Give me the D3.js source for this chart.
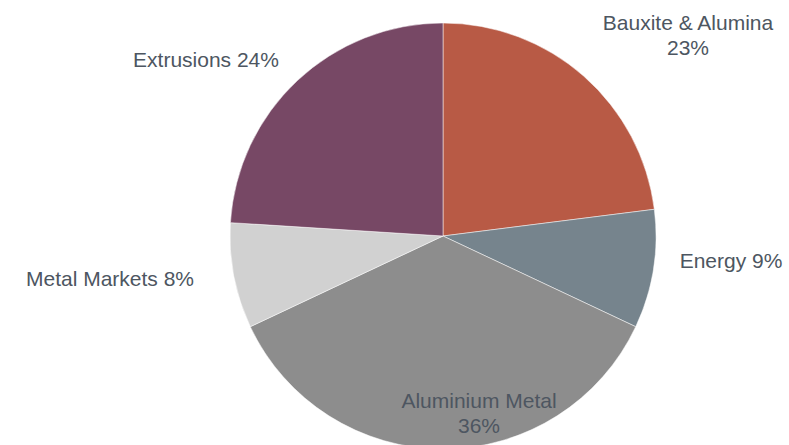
<!DOCTYPE html>
<html>
<head>
<meta charset="utf-8">
<script src="https://cdn.jsdelivr.net/npm/d3@7"></script>
<style>
  body { margin: 0; background: #fff; }
  svg { display: block; }
  text { font-family: "Liberation Sans", Arial, sans-serif; fill: #4d5661; }
</style>
</head>
<body>
<svg width="789" height="445"></svg>
<script>
var segments = ["Bauxite & Alumina", "Energy", "Aluminium Metal", "Metal Markets", "Extrusions"];
var shares = [23, 9, 36, 8, 24];
var colours = ["#b85a45", "#76848d", "#8d8d8d", "#d1d1d1", "#774865"];

// label lines and where they sit (layout only)
var labelLines = [
  ["Bauxite & Alumina", "23%"],
  ["Energy 9%"],
  ["Aluminium Metal", "36%"],
  ["Metal Markets 8%"],
  ["Extrusions 24%"]
];
var labelAt = [[688, 30], [731, 268], [479, 408], [110, 286], [206, 67]];

var svg = d3.select("svg"),
    cx = 443, cy = 236, radius = 213;

var data = segments.map(function(s, i) { return { name: s, value: shares[i], i: i }; });

var pie = d3.pie()
    .sort(null)
    .value(function(d) { return d.value; });

var arc = d3.arc().innerRadius(0).outerRadius(radius);

var g = svg.append("g").attr("transform", "translate(" + cx + "," + cy + ")");

g.selectAll("path")
  .data(pie(data))
  .enter().append("path")
    .attr("d", arc)
    .attr("fill", function(d) { return colours[d.data.i]; })
    .attr("stroke", "#ffffff")
    .attr("stroke-width", 0.5);

var labels = svg.append("g").selectAll("text")
  .data(data)
  .enter().append("text")
    .attr("text-anchor", "middle")
    .attr("font-size", 21)
    .attr("x", function(d) { return labelAt[d.i][0]; })
    .attr("y", function(d) { return labelAt[d.i][1]; });

labels.selectAll("tspan")
  .data(function(d) { return labelLines[d.i].map(function(t) { return { t: t, x: labelAt[d.i][0] }; }); })
  .enter().append("tspan")
    .attr("x", function(d) { return d.x; })
    .attr("dy", function(d, j) { return j === 0 ? 0 : 25; })
    .text(function(d) { return d.t; });
</script>
</body>
</html>
